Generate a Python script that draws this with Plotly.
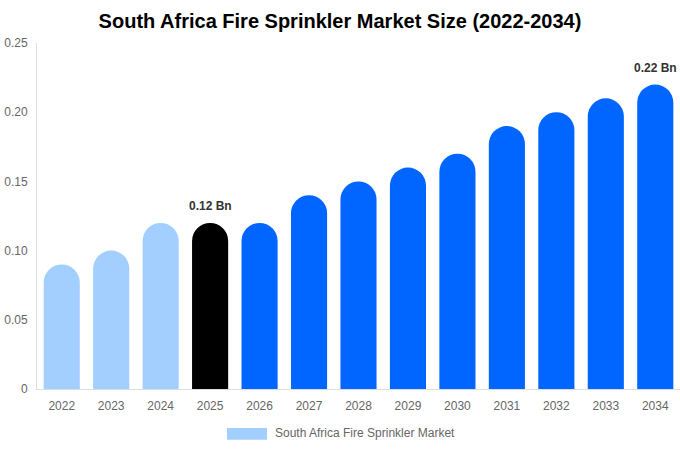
import plotly.graph_objects as go

years = ["2022", "2023", "2024", "2025", "2026", "2027", "2028",
         "2029", "2030", "2031", "2032", "2033", "2034"]
market_size = [0.09, 0.10, 0.12, 0.12, 0.12, 0.14, 0.15,
               0.16, 0.17, 0.19, 0.20, 0.21, 0.22]
# historic light blue, base year black, forecast blue
bar_colors = ["#a2cfff"] * 3 + ["#000000"] + ["#0066ff"] * 9

y_ticks = [0, 0.05, 0.10, 0.15, 0.20, 0.25]
y_tick_text = ["0", "0.05", "0.10", "0.15", "0.20", "0.25"]

labelled = {"2025": "0.12 Bn", "2034": "0.22 Bn"}
legend_name = "South Africa Fire Sprinkler Market"

fig = go.Figure()
fig.add_trace(go.Bar(
    x=years, y=market_size,
    marker=dict(color=bar_colors, cornerradius="50%", line=dict(width=0)),
    showlegend=False,
    hoverinfo="x+y",
))

for yr, txt in labelled.items():
    i = years.index(yr)
    # numeric index: a year-like string would be read as a category serial
    fig.add_annotation(
        x=i, y=market_size[i], text="<b>" + txt + "</b>",
        showarrow=False, yanchor="bottom", yshift=8,
        font=dict(size=12, color="#333333"),
    )

# legend swatch + label, drawn by hand to get the wide swatch
fig.add_shape(type="rect", xref="paper", yref="paper",
              x0=0.2955, x1=0.3577, y0=-0.147, y1=-0.1127,
              fillcolor="#a2cfff", line=dict(width=0))
fig.add_annotation(xref="paper", yref="paper", x=0.367, y=-0.128,
                   text=legend_name, showarrow=False,
                   xanchor="left", yanchor="middle",
                   font=dict(size=12, color="#666666"))

fig.update_layout(
    width=680, height=450,
    margin=dict(l=37, r=0, t=43, b=61),
    paper_bgcolor="white", plot_bgcolor="white",
    font=dict(family="Liberation Sans, Arial, sans-serif"),
    title=dict(text="<b>South Africa Fire Sprinkler Market Size (2022-2034)</b>",
               x=0.5, xanchor="center", y=0.953, yanchor="middle",
               font=dict(size=20, color="#000000")),
    bargap=0.27,
    xaxis=dict(type="category", range=[-0.5, len(years) - 0.5],
               showgrid=False, showline=True,
               linecolor="#dddddd", ticks="", automargin=False,
               ticklabelstandoff=6,
               tickfont=dict(size=12, color="#666666")),
    yaxis=dict(range=[0, 0.25], showgrid=False, showline=True,
               linecolor="#dddddd", zeroline=False, automargin=False,
               tickvals=y_ticks, ticktext=y_tick_text, ticks="",
               ticklabelstandoff=6,
               tickfont=dict(size=12, color="#666666")),
)

# drop the default 8px body margin so the figure fills the window
fig.write_html("out.html", config={"displayModeBar": False},
               post_script="document.body.style.margin='0';")
